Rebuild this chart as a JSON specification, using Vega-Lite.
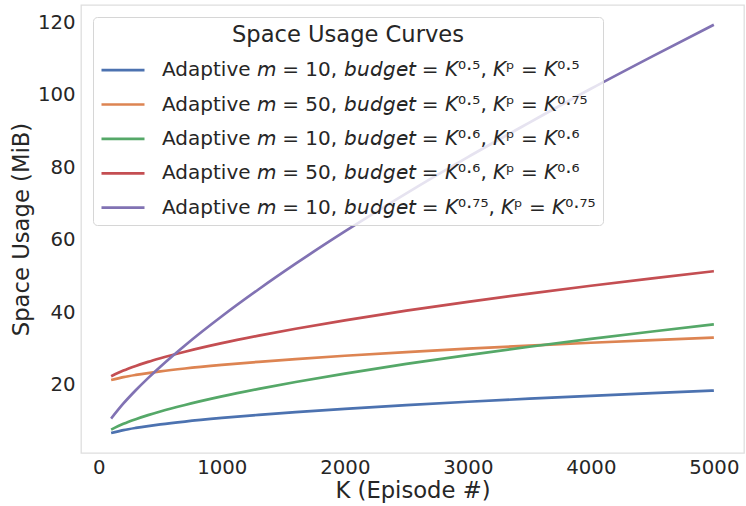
{
  "$schema": "https://vega.github.io/schema/vega-lite/v6.json",
  "width": 663,
  "height": 448,
  "autosize": "none",
  "padding": {"left": 81, "top": 5, "right": 2, "bottom": 53},
  "background": "white",
  "config": {
    "font": "DejaVu Sans",
    "view": {"stroke": "#dedede", "strokeWidth": 1.3},
    "axis": {
      "grid": false,
      "domain": false,
      "ticks": false,
      "labelFont": "DejaVu Sans",
      "labelFontSize": 19.7,
      "labelColor": "#262626",
      "titleFont": "DejaVu Sans",
      "titleFontSize": 22.7,
      "titleColor": "#262626",
      "titleFontWeight": "normal"
    }
  },
  "data": {
    "values": [
      {"K": 100, "usage": 6.60, "series": "s1"}, {"K": 200, "usage": 7.40, "series": "s1"}, {"K": 300, "usage": 8.01, "series": "s1"}, {"K": 400, "usage": 8.53, "series": "s1"}, {"K": 500, "usage": 8.99, "series": "s1"}, {"K": 700, "usage": 9.78, "series": "s1"}, {"K": 1000, "usage": 10.77, "series": "s1"}, {"K": 1300, "usage": 11.63, "series": "s1"}, {"K": 1600, "usage": 12.39, "series": "s1"}, {"K": 2000, "usage": 13.30, "series": "s1"}, {"K": 2500, "usage": 14.32, "series": "s1"}, {"K": 3000, "usage": 15.24, "series": "s1"}, {"K": 3500, "usage": 16.09, "series": "s1"}, {"K": 4000, "usage": 16.88, "series": "s1"}, {"K": 4500, "usage": 17.62, "series": "s1"}, {"K": 5000, "usage": 18.32, "series": "s1"},
      {"K": 100, "usage": 21.23, "series": "s2"}, {"K": 200, "usage": 22.03, "series": "s2"}, {"K": 300, "usage": 22.64, "series": "s2"}, {"K": 400, "usage": 23.16, "series": "s2"}, {"K": 500, "usage": 23.62, "series": "s2"}, {"K": 700, "usage": 24.41, "series": "s2"}, {"K": 1000, "usage": 25.40, "series": "s2"}, {"K": 1300, "usage": 26.26, "series": "s2"}, {"K": 1600, "usage": 27.02, "series": "s2"}, {"K": 2000, "usage": 27.93, "series": "s2"}, {"K": 2500, "usage": 28.95, "series": "s2"}, {"K": 3000, "usage": 29.87, "series": "s2"}, {"K": 3500, "usage": 30.72, "series": "s2"}, {"K": 4000, "usage": 31.51, "series": "s2"}, {"K": 4500, "usage": 32.25, "series": "s2"}, {"K": 5000, "usage": 32.95, "series": "s2"},
      {"K": 100, "usage": 7.55, "series": "s3"}, {"K": 200, "usage": 9.14, "series": "s3"}, {"K": 300, "usage": 10.42, "series": "s3"}, {"K": 400, "usage": 11.54, "series": "s3"}, {"K": 500, "usage": 12.55, "series": "s3"}, {"K": 700, "usage": 14.35, "series": "s3"}, {"K": 1000, "usage": 16.71, "series": "s3"}, {"K": 1300, "usage": 18.79, "series": "s3"}, {"K": 1600, "usage": 20.69, "series": "s3"}, {"K": 2000, "usage": 23.01, "series": "s3"}, {"K": 2500, "usage": 25.67, "series": "s3"}, {"K": 3000, "usage": 28.12, "series": "s3"}, {"K": 3500, "usage": 30.41, "series": "s3"}, {"K": 4000, "usage": 32.57, "series": "s3"}, {"K": 4500, "usage": 34.63, "series": "s3"}, {"K": 5000, "usage": 36.59, "series": "s3"},
      {"K": 100, "usage": 22.27, "series": "s4"}, {"K": 200, "usage": 23.85, "series": "s4"}, {"K": 300, "usage": 25.13, "series": "s4"}, {"K": 400, "usage": 26.25, "series": "s4"}, {"K": 500, "usage": 27.25, "series": "s4"}, {"K": 700, "usage": 29.05, "series": "s4"}, {"K": 1000, "usage": 31.41, "series": "s4"}, {"K": 1300, "usage": 33.49, "series": "s4"}, {"K": 1600, "usage": 35.39, "series": "s4"}, {"K": 2000, "usage": 37.70, "series": "s4"}, {"K": 2500, "usage": 40.36, "series": "s4"}, {"K": 3000, "usage": 42.80, "series": "s4"}, {"K": 3500, "usage": 45.09, "series": "s4"}, {"K": 4000, "usage": 47.25, "series": "s4"}, {"K": 4500, "usage": 49.30, "series": "s4"}, {"K": 5000, "usage": 51.26, "series": "s4"},
      {"K": 100, "usage": 10.60, "series": "s5"}, {"K": 200, "usage": 14.76, "series": "s5"}, {"K": 300, "usage": 18.41, "series": "s5"}, {"K": 400, "usage": 21.76, "series": "s5"}, {"K": 500, "usage": 24.91, "series": "s5"}, {"K": 700, "usage": 30.77, "series": "s5"}, {"K": 1000, "usage": 38.82, "series": "s5"}, {"K": 1300, "usage": 46.28, "series": "s5"}, {"K": 1600, "usage": 53.33, "series": "s5"}, {"K": 2000, "usage": 62.22, "series": "s5"}, {"K": 2500, "usage": 72.74, "series": "s5"}, {"K": 3000, "usage": 82.73, "series": "s5"}, {"K": 3500, "usage": 92.25, "series": "s5"}, {"K": 4000, "usage": 101.58, "series": "s5"}, {"K": 4500, "usage": 110.53, "series": "s5"}, {"K": 5000, "usage": 119.26, "series": "s5"}
    ]
  },
  "mark": {"type": "line", "strokeWidth": 2.7, "interpolate": "monotone"},
  "encoding": {
    "x": {
      "field": "K", "type": "quantitative", "title": "K (Episode #)",
      "scale": {"domain": [-145, 5245], "nice": false, "zero": false},
      "axis": {"values": [0, 1000, 2000, 3000, 4000, 5000], "format": "d", "labelPadding": 4, "titlePadding": 3}
    },
    "y": {
      "field": "usage", "type": "quantitative", "title": "Space Usage (MiB)",
      "scale": {"domain": [1.1, 124.7], "nice": false, "zero": false},
      "axis": {"values": [20, 40, 60, 80, 100, 120], "format": "d", "labelPadding": 6, "titlePadding": 4}
    },
    "color": {
      "field": "series", "type": "nominal",
      "scale": {
        "domain": ["s1", "s2", "s3", "s4", "s5"],
        "range": ["#4c72b0", "#dd8452", "#55a868", "#c44e52", "#8172b3"]
      },
      "legend": {
        "title": "Space Usage Curves",
        "orient": "none",
        "legendX": 12,
        "legendY": 12,
        "titleAnchor": "middle",
        "titleFont": "DejaVu Sans",
        "titleFontSize": 22.6,
        "titleFontWeight": "normal",
        "titleColor": "#262626",
        "titleLimit": 700,
        "titlePadding": 0.5,
        "labelFont": "DejaVu Sans",
        "labelFontSize": 20,
        "labelColor": "#262626",
        "labelOffset": 16,
        "labelLimit": 700,
        "symbolType": "stroke",
        "symbolSize": 1850,
        "symbolStrokeWidth": 2.7,
        "rowPadding": 1.4,
        "fillColor": "rgba(255,255,255,0.8)",
        "strokeColor": "#d6d6d6",
        "cornerRadius": 4,
        "padding": 7,
        "labelExpr": "{'s1': 'Adaptive 𝘮 = 10, 𝘣𝘶𝘥𝘨𝘦𝘵 = 𝘒⁰·⁵, 𝘒ᵖ = 𝘒⁰·⁵', 's2': 'Adaptive 𝘮 = 50, 𝘣𝘶𝘥𝘨𝘦𝘵 = 𝘒⁰·⁵, 𝘒ᵖ = 𝘒⁰·⁷⁵', 's3': 'Adaptive 𝘮 = 10, 𝘣𝘶𝘥𝘨𝘦𝘵 = 𝘒⁰·⁶, 𝘒ᵖ = 𝘒⁰·⁶', 's4': 'Adaptive 𝘮 = 50, 𝘣𝘶𝘥𝘨𝘦𝘵 = 𝘒⁰·⁶, 𝘒ᵖ = 𝘒⁰·⁶', 's5': 'Adaptive 𝘮 = 10, 𝘣𝘶𝘥𝘨𝘦𝘵 = 𝘒⁰·⁷⁵, 𝘒ᵖ = 𝘒⁰·⁷⁵'}[datum.value]"
      }
    }
  }
}
